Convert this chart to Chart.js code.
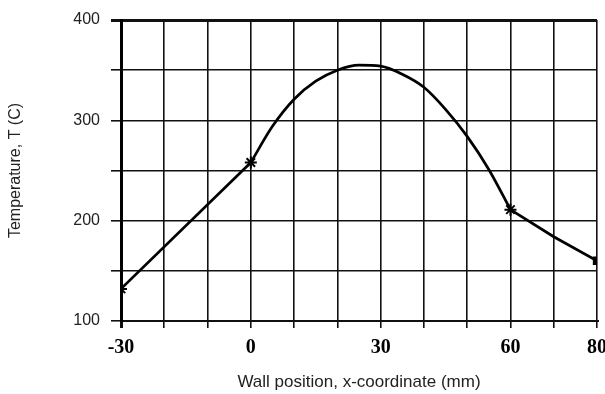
<!DOCTYPE html>
<html>
<head>
<meta charset="utf-8">
<script src="https://cdn.jsdelivr.net/npm/chart.js@4"></script>
<style>
  html, body { margin: 0; padding: 0; background: #fff; }
  canvas { display: block; }
</style>
</head>
<body>
<canvas id="temp-chart" width="605" height="394"></canvas>
<script>
// wall position (mm) and temperature (C)
const xPos = [-30, 0, 5, 10, 15, 20, 25, 30, 35, 40, 45, 50, 55, 60, 70, 80];
const temp = [132, 258, 294, 321, 339, 350, 355, 354, 346, 333, 311, 284, 251, 211, 184, 160];

// measured points with markers
const markX = [-30, 0, 60, 80];
const markT = [132, 258, 211, 160];
const markStyle = ['star', 'star', 'star', 'rect'];

const xLabels = [-30, 0, 30, 60, 80];
const yLabels = [100, 200, 300, 400];

const pts = (a, b) => xPos.slice(a, b).map((x, i) => ({x: x, y: temp[a + i]}));

const lineDs = (data, tension) => ({
    data: data,
    borderColor: '#000',
    borderWidth: 2.7,
    pointRadius: 0,
    tension: tension,
    cubicInterpolationMode: tension ? 'monotone' : 'default',
    showLine: true
});

const config = {
    type: 'scatter',
    data: {
        datasets: [
            lineDs(pts(0, 2), 0),
            lineDs(pts(1, 14), 0.4),
            lineDs(pts(13, 16), 0),
            {
                data: markX.map((x, i) => ({x: x, y: markT[i]})),
                showLine: false,
                pointStyle: markStyle,
                pointRadius: [6, 6, 6, 4.5],
                pointBorderWidth: 2,
                borderColor: '#000',
                backgroundColor: '#000'
            }
        ]
    },
    options: {
        responsive: false,
        animation: false,
        devicePixelRatio: 1,
        layout: {padding: {top: 20, right: 7, left: 0, bottom: 0}},
        plugins: {legend: {display: false}, tooltip: {enabled: false}},
        scales: {
            x: {
                type: 'linear',
                min: -30,
                max: 80,
                afterFit: (s) => { s.height = 73; s.paddingLeft = 0; s.paddingRight = 0; },
                ticks: {
                    stepSize: 10,
                    autoSkip: false,
                    maxRotation: 0,
                    padding: 8,
                    color: '#000',
                    font: {family: 'Liberation Serif', size: 20, weight: 'bold'},
                    callback: (v) => xLabels.includes(v) ? String(v) : ''
                },
                grid: {
                    color: '#111',
                    lineWidth: (c) => c.tick && c.tick.value === -30 ? 3 : 1.6,
                    tickLength: 7
                },
                border: {display: true, color: '#111', width: 2},
                title: {
                    display: true,
                    text: 'Wall position, x-coordinate (mm)',
                    color: '#222',
                    font: {family: 'Liberation Sans', size: 17},
                    padding: {top: 0, bottom: 1}
                }
            },
            y: {
                min: 100,
                max: 400,
                afterFit: (s) => { s.width = 121; s.paddingTop = 0; s.paddingBottom = 0; },
                ticks: {
                    stepSize: 50,
                    autoSkip: false,
                    padding: 11,
                    color: '#222',
                    font: {family: 'Liberation Sans', size: 16},
                    callback: (v) => yLabels.includes(v) ? String(v) : ''
                },
                grid: {
                    color: '#111',
                    lineWidth: (c) => c.tick && c.tick.value === 400 ? 3 : 1.6,
                    tickLength: 10
                },
                border: {display: true, color: '#000', width: 3},
                title: {
                    display: true,
                    text: 'Temperature, T (C)',
                    color: '#222',
                    font: {family: 'Liberation Sans', size: 16},
                    padding: {top: 6, bottom: 0}
                }
            }
        }
    }
};

const tempChart = new Chart(document.getElementById('temp-chart'), config);
</script>
</body>
</html>
